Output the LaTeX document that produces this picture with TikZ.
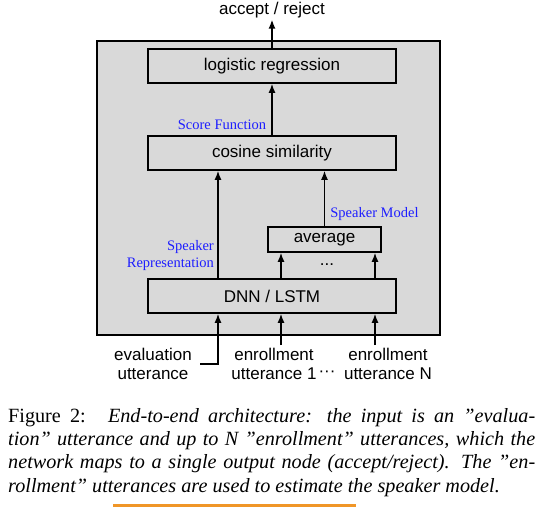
\documentclass[tikz,border=0pt]{standalone}
\usepackage{fontspec}
\setmainfont{Liberation Serif}
\newfontfamily\arialf{Liberation Sans}
\usetikzlibrary{arrows.meta}
\definecolor{boxgray}{RGB}{217,217,217}
\definecolor{lblblue}{RGB}{30,30,255}
\definecolor{barorange}{RGB}{240,150,40}
\begin{document}
\begin{tikzpicture}[x=1pt,y=-1pt,
  sans/.style={font=\arialf\fontsize{17}{19}\selectfont},
  blockbox/.style={sans,draw=black,line width=1.6pt,fill=boxgray,inner sep=0pt},
  arr/.style={line width=1.5pt,-{Latex[length=9pt,width=7pt]}},
  bluelbl/.style={font=\fontsize{14.5}{17}\selectfont,text=lblblue,inner sep=0pt}]
\useasboundingbox (0,0) rectangle (541,507);
\fill[white] (0,0) rectangle (541,507);
% outer frame
\node[draw=black,line width=1.8pt,fill=boxgray,minimum width=343pt,minimum height=294pt,inner sep=0pt] (frame) at (268.5,188) {};
% blocks
\node[blockbox,minimum width=248pt,minimum height=34pt] (lr) at (272,66) {logistic regression};
\node[blockbox,minimum width=248pt,minimum height=34pt] (cs) at (272,153) {cosine similarity};
\node[blockbox,minimum width=113pt,minimum height=25pt] (avg) at (324.5,239.5) {average};
\node[blockbox,minimum width=248pt,minimum height=34pt] (dnn) at (272,296) {DNN / LSTM};
% output
\node[sans,inner sep=1pt] (acc) at (272,10.5) {accept / reject};
% column coordinates
\coordinate (cL) at (218,0);
\coordinate (cA) at (281,0);
\coordinate (cB) at (375,0);
\coordinate (evin) at (200,364);
\coordinate (e1in) at (281,345);
\coordinate (eNin) at (375,345);
% arrows
\draw[arr] (lr.north) -- (acc.south);
\draw[arr] (cs.north) -- (lr.south);
\draw[arr] (dnn.north -| cL) -- (cs.south -| cL);
\draw[arr] (avg.north) -- (cs.south -| avg.north);
\draw[arr] (dnn.north -| cA) -- (avg.south -| cA);
\draw[arr] (dnn.north -| cB) -- (avg.south -| cB);
\draw[arr] (evin) -| (dnn.south -| cL);
\draw[arr] (e1in) -- (dnn.south -| cA);
\draw[arr] (eNin) -- (dnn.south -| cB);
% labels
\node[bluelbl] (sf) at (222,125) {Score Function};
\node[bluelbl] (sm) at (374.5,214) {Speaker Model};
\node[bluelbl,align=right,anchor=east] (sr) at (214,255.5) {Speaker\\Representation};
\node[sans,inner sep=0pt] (dots1) at (327,265) {...};
% inputs
\node[sans,align=center,inner sep=0pt] (ev) at (153,363.5) {evaluation\\utterance};
\node[sans,align=center,inner sep=0pt] (e1) at (274,363.5) {enrollment\\utterance 1};
\node[sans,inner sep=0pt] (dots2) at (327,374) {\textperiodcentered\textperiodcentered\textperiodcentered};
\node[sans,align=center,inner sep=0pt] (eN) at (388,363.5) {enrollment\\utterance N};
% caption
\node[anchor=north west,inner sep=0pt,text width=527pt,align=justify,font=\fontsize{20.2}{23.3}\selectfont] (cap) at (8,408)
{Figure 2:\hspace{1.1em}\textit{End-to-end architecture: the input is an ”evalua-\linebreak tion” utterance and up to N ”enrollment” utterances, which the\linebreak network maps to a single output node (accept/reject). The ”en-\linebreak rollment” utterances are used to estimate the speaker model.}\par};
\fill[barorange] (113,504) rectangle (356,507);
\end{tikzpicture}
\end{document}
